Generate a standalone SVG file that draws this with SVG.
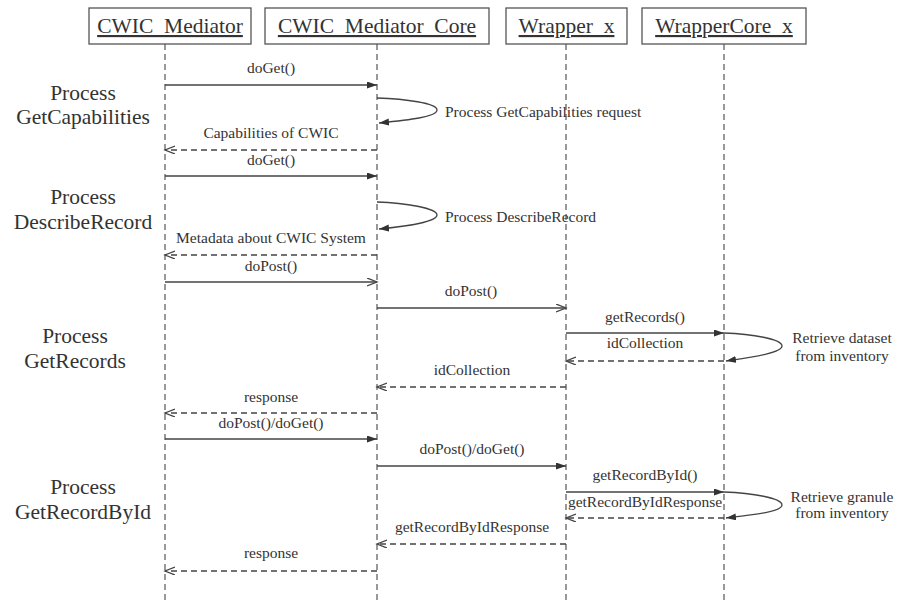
<svg xmlns="http://www.w3.org/2000/svg" width="898" height="600" viewBox="0 0 898 600">
  <style>
    .box { fill: #ffffff; stroke: #555555; stroke-width: 1.3; }
    .head { font-family: "Liberation Serif", "Times New Roman", serif; font-size: 21.5px; fill: #333333; text-anchor: middle; text-decoration: underline; }
    .life { stroke: #555555; stroke-width: 1.2; stroke-dasharray: 6 4; fill: none; }
    .call { stroke: #444444; stroke-width: 1.3; fill: none; }
    .ret { stroke: #444444; stroke-width: 1.3; fill: none; stroke-dasharray: 6 4; }
    .msg { font-family: "Liberation Serif", "Times New Roman", serif; font-size: 15.5px; fill: #333333; text-anchor: middle; }
    .note { font-family: "Liberation Serif", "Times New Roman", serif; font-size: 15.5px; fill: #333333; }
    .phase { font-family: "Liberation Serif", "Times New Roman", serif; font-size: 21.5px; fill: #333333; text-anchor: middle; }
  </style>
  <defs>
    <marker id="solid" markerUnits="userSpaceOnUse" markerWidth="12" markerHeight="10" refX="10" refY="3.5" orient="auto">
      <path d="M0,0 L10,3.5 L0,7 z" fill="#333333"/>
    </marker>
    <marker id="open" markerUnits="userSpaceOnUse" markerWidth="12" markerHeight="10" refX="10" refY="4" orient="auto">
      <path d="M0,0 L10,4 L0,8" fill="none" stroke="#444444" stroke-width="1.3"/>
    </marker>
  </defs>
  <rect width="898" height="600" fill="#ffffff"/>

  <!-- phase labels on the left -->
  <g id="phases">
    <text class="phase" x="83" y="100">Process</text>
    <text class="phase" x="83" y="124">GetCapabilities</text>
    <text class="phase" x="83" y="204">Process</text>
    <text class="phase" x="83" y="229">DescribeRecord</text>
    <text class="phase" x="75" y="343">Process</text>
    <text class="phase" x="75" y="368">GetRecords</text>
    <text class="phase" x="83" y="494">Process</text>
    <text class="phase" x="83" y="519">GetRecordById</text>
  </g>

  <!-- participants with lifelines -->
  <g id="cwic-mediator">
    <line class="life" x1="165" y1="44" x2="165" y2="600"/>
    <rect class="box" x="89" y="8" width="162" height="36"/>
    <text class="head" x="170" y="33">CWIC_Mediator</text>
  </g>
  <g id="cwic-mediator-core">
    <line class="life" x1="377" y1="44" x2="377" y2="600"/>
    <rect class="box" x="265" y="8" width="224" height="36"/>
    <text class="head" x="377" y="33">CWIC_Mediator_Core</text>
  </g>
  <g id="wrapper-x">
    <line class="life" x1="566" y1="44" x2="566" y2="600"/>
    <rect class="box" x="506" y="8" width="121" height="36"/>
    <text class="head" x="566.5" y="33">Wrapper_x</text>
  </g>
  <g id="wrappercore-x">
    <line class="life" x1="724" y1="44" x2="724" y2="600"/>
    <rect class="box" x="642" y="8" width="164" height="36"/>
    <text class="head" x="724" y="33">WrapperCore_x</text>
  </g>

  <!-- messages -->
  <g id="connectors">
    <!-- GetCapabilities -->
    <line class="call" x1="165" y1="85" x2="377" y2="85" marker-end="url(#solid)"/>
    <text class="msg" x="271" y="73">doGet()</text>
    <path class="call" d="M377,98 C405,99 437,103 437,110 C437,117 408,120 379,123" marker-end="url(#solid)"/>
    <text class="note" x="445" y="117">Process GetCapabilities request</text>
    <line class="ret" x1="377" y1="150" x2="165" y2="150" marker-end="url(#open)"/>
    <text class="msg" x="271" y="138">Capabilities of CWIC</text>

    <!-- DescribeRecord -->
    <line class="call" x1="165" y1="176" x2="377" y2="176" marker-end="url(#solid)"/>
    <text class="msg" x="271" y="165">doGet()</text>
    <path class="call" d="M377,202 C405,203 437,208 437,215 C437,222 408,226 379,229" marker-end="url(#solid)"/>
    <text class="note" x="445" y="222">Process DescribeRecord</text>
    <line class="ret" x1="377" y1="255" x2="165" y2="255" marker-end="url(#open)"/>
    <text class="msg" x="271" y="243">Metadata about CWIC System</text>

    <!-- GetRecords -->
    <line class="call" x1="165" y1="282" x2="377" y2="282" marker-end="url(#open)"/>
    <text class="msg" x="271" y="271">doPost()</text>
    <line class="call" x1="377" y1="308" x2="566" y2="308" marker-end="url(#open)"/>
    <text class="msg" x="471" y="296">doPost()</text>
    <line class="call" x1="566" y1="333" x2="724" y2="333" marker-end="url(#solid)"/>
    <text class="msg" x="645" y="322">getRecords()</text>
    <path class="call" d="M724,333 C752,334 782,339 782,346 C782,353 752,357 726,361" marker-end="url(#solid)"/>
    <text class="msg" x="842" y="343">Retrieve dataset</text>
    <text class="msg" x="842" y="361">from inventory</text>
    <line class="ret" x1="724" y1="361" x2="566" y2="361" marker-end="url(#open)"/>
    <text class="msg" x="645" y="348">idCollection</text>
    <line class="ret" x1="566" y1="387" x2="377" y2="387" marker-end="url(#open)"/>
    <text class="msg" x="472" y="375">idCollection</text>
    <line class="ret" x1="377" y1="413" x2="165" y2="413" marker-end="url(#open)"/>
    <text class="msg" x="271" y="402">response</text>

    <!-- GetRecordById -->
    <line class="call" x1="165" y1="439" x2="377" y2="439" marker-end="url(#solid)"/>
    <text class="msg" x="271" y="428">doPost()/doGet()</text>
    <line class="call" x1="377" y1="466" x2="566" y2="466" marker-end="url(#solid)"/>
    <text class="msg" x="472" y="454">doPost()/doGet()</text>
    <line class="call" x1="566" y1="492" x2="724" y2="492" marker-end="url(#solid)"/>
    <text class="msg" x="645" y="480">getRecordById()</text>
    <path class="call" d="M724,492 C752,493 782,498 782,505 C782,512 752,515 726,518" marker-end="url(#solid)"/>
    <text class="msg" x="842" y="502">Retrieve granule</text>
    <text class="msg" x="842" y="518">from inventory</text>
    <line class="ret" x1="724" y1="518" x2="566" y2="518" marker-end="url(#open)"/>
    <text class="msg" x="645" y="507">getRecordByIdResponse</text>
    <line class="ret" x1="566" y1="544" x2="377" y2="544" marker-end="url(#open)"/>
    <text class="msg" x="472" y="532">getRecordByIdResponse</text>
    <line class="ret" x1="377" y1="571" x2="165" y2="571" marker-end="url(#open)"/>
    <text class="msg" x="271" y="558">response</text>
  </g>
</svg>
